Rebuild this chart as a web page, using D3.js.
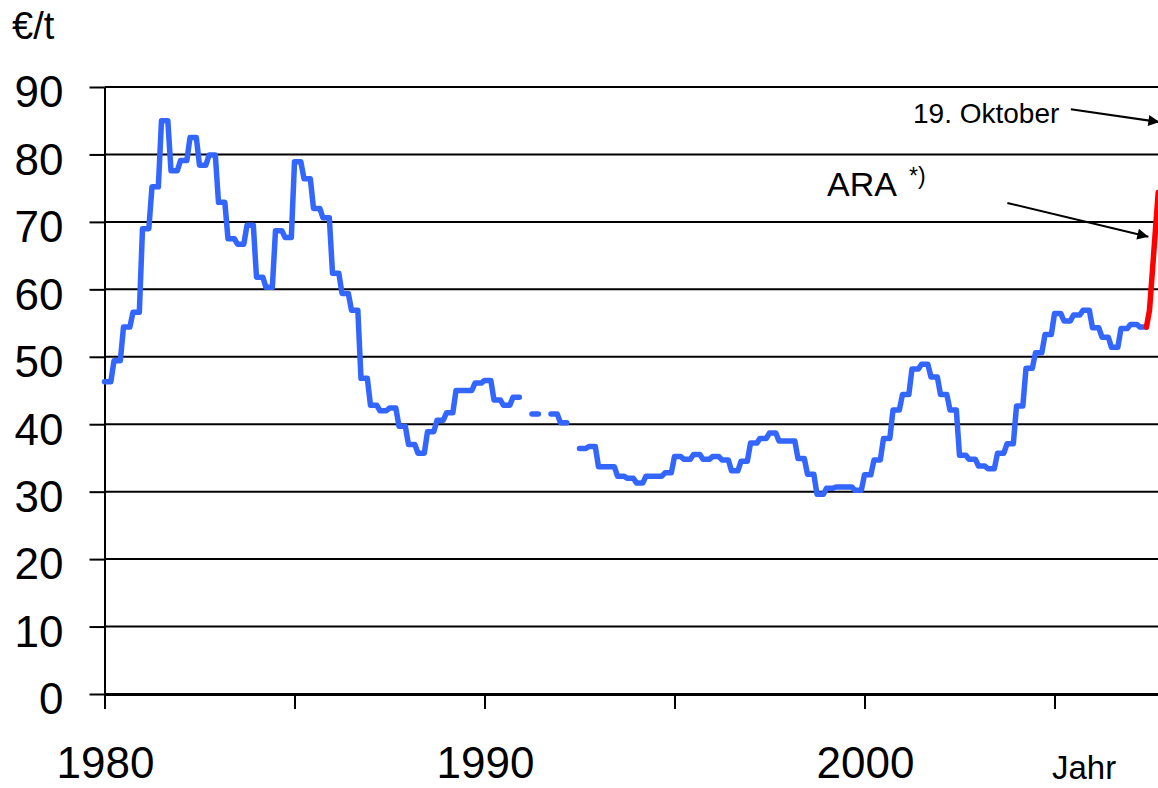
<!DOCTYPE html>
<html>
<head>
<meta charset="utf-8">
<script src="https://cdn.jsdelivr.net/npm/d3@7/dist/d3.min.js"></script>
<style>
    body { margin: 0; background: #fff; }
    svg { display: block; font-family: "Liberation Sans", Arial, sans-serif; }
</style>
</head>
<body>
<svg id="svg" width="1158" height="788"></svg>
<script>
    // Quartalswerte ab 1980 (€/t), null = keine Notierung
    var firstYear = 1980;
    var quarterly = [
        46.3, 49.4, 54.4, 56.6,   // 1980
        69.0, 75.2, 85.0, 77.6,   // 1981
        79.1, 82.5, 78.4, 79.9,   // 1982
        72.9, 67.5, 66.7, 69.5,   // 1983
        61.8, 60.3, 68.7, 67.7,   // 1984
        78.9, 76.4, 72.0, 70.6,   // 1985
        62.4, 59.4, 56.9, 46.8,   // 1986
        42.8, 42.0, 42.4, 39.7,   // 1987
        37.0, 35.7, 38.9, 40.6,   // 1988
        41.7, 45.0, 45.0, 46.1,   // 1989
        46.5, 43.6, 42.8, 44.0,   // 1990
        null, 41.5, null, 41.5,   // 1991
        40.2, null, 36.4, 36.7,   // 1992
        33.7, 33.7, 32.3, 32.0,   // 1993
        31.3, 32.3, 32.3, 32.8,   // 1994
        35.2, 34.8, 35.5, 34.8,   // 1995
        35.2, 34.7, 33.1, 34.5,   // 1996
        37.2, 37.9, 38.7, 37.5,   // 1997
        37.5, 34.9, 32.6, 29.6,   // 1998
        30.5, 30.7, 30.7, 30.2,   // 1999
        32.5, 34.7, 37.9, 42.1,   // 2000
        44.4, 48.2, 48.9, 47.0,   // 2001
        44.4, 42.1, 35.4, 34.8,   // 2002
        33.8, 33.4, 35.7, 37.1,   // 2003
        42.7, 48.3, 50.6, 53.3,   // 2004
        56.4, 55.3, 56.2, 56.9,   // 2005
        54.3, 52.9, 51.4, 54.2,   // 2006
        54.8, 54.4                // 2007
    ];
    // ARA Spotpreis 2007
    var araTime = [2007.42, 2007.50, 2007.73];
    var araValue = [54.4, 56.9, 74.4];

    var yTicks = [0, 10, 20, 30, 40, 50, 60, 70, 80, 90];
    var xTicks = [1980, 1985, 1990, 1995, 2000, 2005];
    var xLabels = [1980, 1990, 2000];

    var svg = d3.select("#svg");

    var x = d3.scaleLinear().domain([1980, 2007.75]).range([104.5, 1159]),
        y = d3.scaleLinear().domain([0, 90]).range([694, 87]);

    var defs = svg.append("defs");
    defs.append("marker").attr("id", "arrow")
        .attr("viewBox", "0 0 10 10").attr("refX", 10).attr("refY", 5)
        .attr("markerWidth", 15).attr("markerHeight", 11).attr("markerUnits", "userSpaceOnUse")
        .attr("orient", "auto")
        .append("path").attr("d", "M0,0L10,5L0,10z").attr("fill", "#000");

    //Gitterlinien
    svg.append("g").attr("class", "grid")
        .selectAll("line").data(yTicks.filter(function(d) { return d > 0; }))
        .enter().append("line")
        .attr("x1", x(1980)).attr("x2", 1158)
        .attr("y1", function(d) { return y(d); })
        .attr("y2", function(d) { return y(d); })
        .attr("stroke", "#000").attr("stroke-width", 2);

    //Achsen
    var yAxis = svg.append("g").attr("transform", "translate(" + x(1980) + ",0)")
        .call(d3.axisLeft(y).tickValues(yTicks).tickSize(15).tickSizeOuter(0).tickPadding(26));
    yAxis.select(".domain").attr("stroke", "#000").attr("stroke-width", 2);
    yAxis.selectAll(".tick line").attr("stroke", "#000").attr("stroke-width", 2);
    yAxis.selectAll(".tick text").attr("font-size", 44).attr("dy", "0.45em").attr("fill", "#000")
        .style("font-family", "'Liberation Sans', Arial, sans-serif");

    var xAxis = svg.append("g").attr("transform", "translate(0," + y(0) + ")")
        .call(d3.axisBottom(x).tickValues(xTicks).tickSize(15).tickSizeOuter(0).tickFormat(""));
    xAxis.select(".domain").attr("stroke", "#000").attr("stroke-width", 3);
    xAxis.selectAll(".tick line").attr("stroke", "#000").attr("stroke-width", 2);

    svg.append("g").selectAll("text").data(xLabels).enter().append("text")
        .attr("x", function(d) { return x(d) + 1; }).attr("y", 778)
        .attr("text-anchor", "middle").attr("font-size", 44)
        .text(function(d) { return d; });

    svg.append("text").attr("x", 1052).attr("y", 779).attr("font-size", 33).text("Jahr");
    svg.append("text").attr("x", 12).attr("y", 39).attr("font-size", 38).text("€/t");

    //Preisverlauf: jedes Quartal als Plateau, Übergang im letzten Monat
    var pts = [];
    quarterly.forEach(function(v, i) {
        var t = firstYear + i / 4;
        pts.push({t: t, v: v});
        if (v != null) pts.push({t: t + 2 / 12, v: v});
    });
    var line = d3.line()
        .defined(function(d) { return d.v != null; })
        .x(function(d) { return x(d.t); })
        .y(function(d) { return y(d.v); });

    svg.append("path").datum(pts).attr("d", line)
        .attr("fill", "none").attr("stroke", "#3366ff").attr("stroke-width", 5.5)
        .attr("stroke-linejoin", "round").attr("stroke-linecap", "round");

    var ara = araTime.map(function(t, i) { return {t: t, v: araValue[i]}; });
    svg.append("path").datum(ara).attr("d", line)
        .attr("fill", "none").attr("stroke", "#ff0000").attr("stroke-width", 5.5)
        .attr("stroke-linejoin", "round").attr("stroke-linecap", "round");

    //Beschriftungen
    svg.append("text").attr("x", 913).attr("y", 123).attr("font-size", 28).text("19. Oktober");
    svg.append("line")
        .attr("x1", x(2005.43)).attr("y1", y(86.7)).attr("x2", x(2007.76)).attr("y2", y(84.8))
        .attr("stroke", "#000").attr("stroke-width", 2).attr("marker-end", "url(#arrow)");

    svg.append("text").attr("x", 827).attr("y", 196).attr("font-size", 34).text("ARA");
    svg.append("text").attr("x", 909).attr("y", 184).attr("font-size", 23).text("*)");
    svg.append("line")
        .attr("x1", x(2003.76)).attr("y1", y(72.8)).attr("x2", x(2007.47)).attr("y2", y(67.8))
        .attr("stroke", "#000").attr("stroke-width", 2).attr("marker-end", "url(#arrow)");
</script>
</body>
</html>
